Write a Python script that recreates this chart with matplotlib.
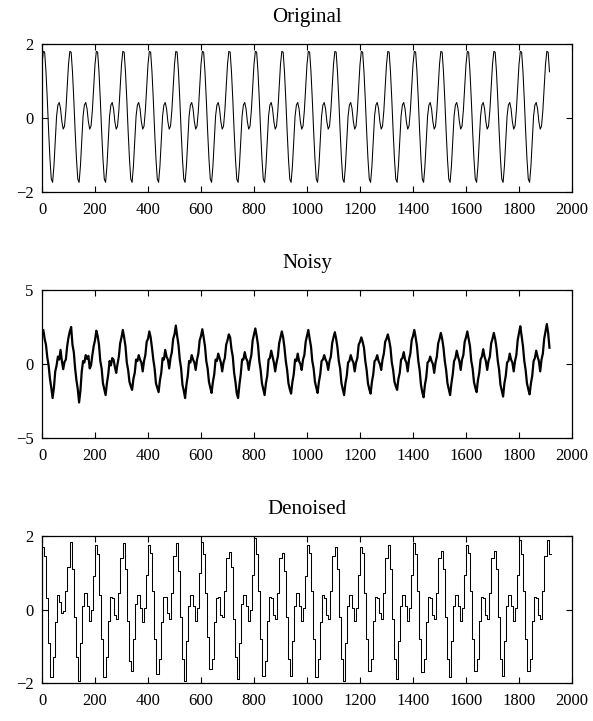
import numpy as np
import matplotlib
matplotlib.use("Agg")
import matplotlib.pyplot as plt

plt.rcParams['font.family'] = ['Liberation Serif', 'DejaVu Serif']

# ---------------- data ----------------
titles = ["Original", "Noisy", "Denoised"]
x_ticks = [0, 200, 400, 600, 800, 1000, 1200, 1400, 1600, 1800, 2000]
y_ticks_orig = [-2, 0, 2]
y_ticks_noisy = [-5, 0, 5]
y_ticks_den = [-2, 0, 2]

sample_step = 5          # spacing of the read samples (x units)
n_samples = 384          # 0 ... 1915

# one period (100 units) of the clean signal, read every 5 units
original_period = [1.45, 1.80, 1.78, 1.25, 0.50, -0.35, -1.10, -1.65, -1.74, -1.30,
                   -0.60, 0.05, 0.35, 0.42, 0.25, -0.10, -0.30, -0.22, 0.20, 0.85]

# noisy signal, read every 5 units, one row per period
noisy_rows = [
    [2.2, 2.3, 1.7, 1.3, 0.45, -0.1, -1.0, -1.6, -2.3, -1.6, -0.5, -0.1, 0.5, 0.3, 0.95, 0.2, -0.35, 0.15, 0.3, 1.2],
    [1.8, 2.2, 2.5, 1.3, 0.8, -0.3, -1.1, -1.7, -2.6, -1.8, -0.5, 0.2, 0.1, 0.6, 0.35, 0.55, -0.3, -0.1, 0.6, 1.2],
    [1.6, 2.25, 1.9, 1.3, 0.2, -0.3, -1.3, -1.7, -2.1, -1.3, -0.7, 0.2, -0.1, 0.4, 0.3, -0.2, -0.6, 0.0, 0.5, 1.4],
    [1.8, 2.3, 1.8, 1.2, 0.1, -0.4, -1.2, -1.5, -1.75, -1.0, -0.6, 0.3, 0.2, 0.6, 0.3, 0.1, -0.5, 0.2, 0.6, 1.5],
    [1.7, 2.2, 1.8, 1.1, 0.3, -0.3, -1.3, -1.6, -1.9, -1.1, -0.6, 0.4, 0.3, 0.95, 0.5, 0.3, -0.3, 0.4, 0.8, 1.7],
    [2.0, 2.6, 1.9, 1.3, 0.3, -0.3, -1.4, -1.8, -2.3, -1.4, -0.8, 0.2, 0.1, 0.6, 0.3, 0.1, -0.4, 0.3, 0.7, 1.6],
    [1.9, 2.35, 1.8, 1.2, 0.2, -0.3, -1.2, -1.6, -1.95, -1.2, -0.7, 0.3, 0.2, 0.7, 0.4, 0.1, -0.5, 0.1, 0.4, 1.3],
    [1.6, 2.0, 1.8, 1.0, 0.5, -0.6, -1.2, -2.0, -2.3, -1.4, -0.7, 0.3, 0.3, 0.8, 0.4, 0.2, -0.4, 0.2, 0.6, 1.6],
    [2.0, 2.4, 1.9, 1.3, 0.2, -0.4, -1.3, -1.7, -2.1, -1.3, -0.8, 0.3, 0.4, 0.9, 0.5, 0.1, -0.5, 0.1, 0.5, 1.4],
    [1.8, 2.2, 1.8, 1.1, 0.2, -0.4, -1.3, -1.7, -2.0, -1.2, -0.7, 0.3, 0.2, 0.7, 0.2, 0.0, -0.4, 0.3, 0.6, 1.5],
    [1.9, 2.3, 1.7, 1.2, 0.2, -0.3, -1.2, -1.6, -1.95, -1.2, -0.7, 0.2, 0.3, 0.6, 0.3, 0.1, -0.4, 0.2, 0.5, 1.4],
    [1.8, 2.15, 1.7, 1.1, 0.2, -0.3, -1.3, -1.7, -2.1, -1.3, -0.8, 0.1, 0.2, 0.6, 0.3, 0.1, -0.5, 0.1, 0.4, 1.3],
    [1.5, 1.8, 1.5, 1.1, 0.2, -0.4, -1.3, -1.7, -2.0, -1.2, -0.7, 0.2, 0.3, 0.6, 0.2, 0.0, -0.4, 0.3, 0.7, 1.5],
    [1.7, 2.0, 1.6, 1.1, 0.1, -0.4, -1.2, -1.5, -1.75, -1.0, -0.6, 0.3, 0.4, 0.8, 0.3, 0.1, -0.5, 0.3, 0.7, 1.6],
    [1.9, 2.3, 1.8, 1.2, 0.2, -0.4, -1.4, -1.9, -2.25, -1.4, -0.9, 0.1, 0.2, 0.5, 0.2, 0.0, -0.6, 0.1, 0.5, 1.4],
    [1.7, 2.1, 1.7, 1.1, 0.2, -0.4, -1.3, -1.7, -2.1, -1.3, -0.7, 0.2, 0.4, 0.9, 0.5, 0.2, -0.4, 0.3, 0.6, 1.5],
    [1.8, 2.2, 1.7, 1.2, 0.2, -0.3, -1.2, -1.6, -1.9, -1.1, -0.6, 0.3, 0.5, 1.0, 0.5, 0.2, -0.4, 0.2, 0.5, 1.4],
    [1.7, 2.1, 1.7, 1.1, 0.2, -0.4, -1.4, -1.8, -2.2, -1.3, -0.8, 0.1, 0.2, 0.7, 0.3, 0.1, -0.5, 0.2, 0.6, 1.6],
    [2.1, 2.55, 1.9, 1.2, 0.2, -0.4, -1.3, -1.7, -2.05, -1.3, -0.8, 0.2, 0.4, 0.9, 0.5, 0.2, -0.5, 0.3, 0.7, 1.7],
    [2.2, 2.7, 2.1, 1.1],
]

# denoised signal: piecewise-constant blocks of 8 units, one row per period
block_width = 8
denoised_rows = [
    [1.7, 1.45, 0.3, -0.9, -1.85, -1.3, -0.35, 0.4, 0.2, -0.1, -0.05, 0.5],
    [1.15, 1.85, 1.1, -0.2, -1.3, -1.95, -0.9, 0.1, 0.45, 0.1, -0.3, 0.0, 0.9],
    [1.75, 1.5, 0.4, -0.8, -1.85, -1.3, -0.3, 0.35, 0.3, -0.15, -0.25, 0.45],
    [1.4, 1.8, 1.1, -0.3, -1.4, -1.68, -0.8, 0.15, 0.4, 0.05, -0.35, 0.05, 0.95],
    [1.75, 1.55, 0.5, -0.8, -1.75, -1.35, -0.35, 0.35, 0.35, -0.1, -0.25, 0.45],
    [1.45, 1.8, 1.05, -0.2, -1.35, -1.95, -0.85, 0.1, 0.4, 0.1, -0.3, 0.05, 1.0],
    [1.85, 1.5, 0.45, -0.75, -1.61, -1.35, -0.35, 0.3, 0.35, -0.15, -0.2, 0.5],
    [1.4, 1.57, 1.15, -0.25, -1.3, -1.9, -0.9, 0.15, 0.4, 0.1, -0.3, 0.0, 0.95],
    [1.94, 1.5, 0.5, -0.8, -1.8, -1.4, -0.3, 0.35, 0.3, -0.15, -0.25, 0.45],
    [1.4, 1.55, 1.05, -0.2, -1.35, -1.8, -0.85, 0.1, 0.45, 0.1, -0.3, 0.05, 0.9],
    [1.75, 1.55, 0.5, -0.8, -1.85, -1.35, -0.35, 0.4, 0.3, -0.15, -0.25, 0.5],
    [1.45, 1.7, 1.1, -0.2, -1.35, -1.95, -0.9, 0.1, 0.4, 0.05, -0.3, 0.05, 0.95],
    [1.7, 1.55, 0.45, -0.8, -1.66, -1.35, -0.3, 0.35, 0.3, -0.1, -0.25, 0.45],
    [1.4, 1.75, 1.1, -0.25, -1.35, -1.9, -0.85, 0.1, 0.4, 0.1, -0.3, 0.05, 0.95],
    [1.8, 1.5, 0.5, -0.8, -1.7, -1.35, -0.35, 0.35, 0.3, -0.15, -0.25, 0.45],
    [1.4, 1.6, 1.1, -0.2, -1.35, -1.85, -0.85, 0.1, 0.4, 0.1, -0.3, 0.05, 0.95],
    [1.75, 1.55, 0.5, -0.8, -1.68, -1.35, -0.3, 0.35, 0.3, -0.15, -0.25, 0.45],
    [1.4, 1.6, 1.1, -0.2, -1.35, -1.8, -0.85, 0.1, 0.4, 0.1, -0.3, 0.05, 0.95],
    [1.9, 1.5, 0.5, -0.8, -1.68, -1.35, -0.3, 0.35, 0.3, -0.15, -0.25, 0.5],
    [1.45, 1.9, 1.5],
]

# ---------------- build series ----------------
x_s = np.arange(n_samples) * sample_step
original = np.tile(original_period, n_samples // len(original_period) + 1)[:n_samples]
noisy = np.concatenate([np.array(r, float) for r in noisy_rows])
den_vals = np.concatenate([np.array(r, float) for r in denoised_rows])
den_edges = np.arange(len(den_vals) + 1) * block_width
den_y = np.append(den_vals, den_vals[-1])

# ---------------- figure ----------------
W, H = 593, 721
fig = plt.figure(figsize=(W / 100, H / 100), dpi=100)

def rect(left, right, top, bottom):
    return [left / W, 1 - bottom / H, (right - left) / W, (bottom - top) / H]

axes = [fig.add_axes(rect(42, 572, 44, 192)),
        fig.add_axes(rect(42, 572, 290, 438)),
        fig.add_axes(rect(42, 572, 536, 683))]

axes[0].plot(x_s, original, color='black', lw=0.75)
axes[1].plot(x_s, noisy, color='black', lw=1.6)
axes[2].plot(den_edges, den_y, color='black', lw=0.75, drawstyle='steps-post')

ylims = [(-2, 2), (-5, 5), (-2, 2)]
yticks = [y_ticks_orig, y_ticks_noisy, y_ticks_den]
for ax, t, yl, yt in zip(axes, titles, ylims, yticks):
    ax.set_xlim(0, 2000)
    ax.set_ylim(*yl)
    ax.set_xticks(x_ticks)
    ax.set_yticks(yt)
    ax.tick_params(direction='in', top=True, right=True, length=4, width=0.8,
                   labelsize=12, pad=6)
    ax.tick_params(axis='x', pad=7)
    for s in ax.spines.values():
        s.set_linewidth(0.9)
    ax.set_title(t, fontsize=15, pad=16)

fig.savefig("out.png", dpi=100)
